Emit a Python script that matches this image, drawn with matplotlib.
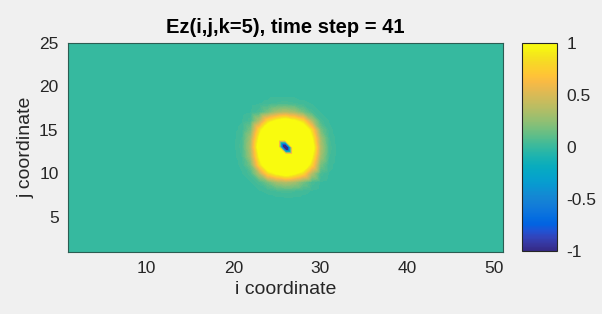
import numpy as np
import matplotlib
matplotlib.use('Agg')
import matplotlib.pyplot as plt
import matplotlib.tri as mtri
from matplotlib.colors import LinearSegmentedColormap, Normalize
from matplotlib.cm import ScalarMappable

# grid size (i = 1..51, j = 1..25)
n_i = 51
n_j = 25
src_i = 26   # centre of the pulse
src_j = 13

# Ez values around the source (rows j-5 .. j+5, cols i-5 .. i+5)
ez_patch = [
    [0.00, 0.00, 0.01, 0.02, 0.04, 0.05, 0.04, 0.02, 0.01, 0.00, 0.00],
    [0.00, 0.01, 0.05, 0.17, 0.30, 0.35, 0.30, 0.17, 0.05, 0.01, 0.00],
    [0.01, 0.05, 0.35, 0.80, 1.00, 1.15, 1.00, 0.80, 0.35, 0.05, 0.01],
    [0.02, 0.17, 0.80, 1.30, 1.60, 1.70, 1.60, 1.30, 0.80, 0.17, 0.02],
    [0.04, 0.30, 1.00, 1.60, 1.50, 1.50, 1.50, 1.60, 1.00, 0.30, 0.04],
    [0.05, 0.35, 1.15, 1.70, 1.50, -2.20, 1.50, 1.70, 1.15, 0.35, 0.05],
    [0.04, 0.30, 1.00, 1.60, 1.50, 1.50, 1.50, 1.60, 1.00, 0.30, 0.04],
    [0.02, 0.17, 0.80, 1.30, 1.60, 1.70, 1.60, 1.30, 0.80, 0.17, 0.02],
    [0.01, 0.05, 0.35, 0.80, 1.00, 1.15, 1.00, 0.80, 0.35, 0.05, 0.01],
    [0.00, 0.01, 0.05, 0.17, 0.30, 0.35, 0.30, 0.17, 0.05, 0.01, 0.00],
    [0.00, 0.00, 0.01, 0.02, 0.04, 0.05, 0.04, 0.02, 0.01, 0.00, 0.00],
]

cbar_ticks = [-1, -0.5, 0, 0.5, 1]
cbar_labels = ['-1', '-0.5', '0', '0.5', '1']

# parula-like colormap
parula = LinearSegmentedColormap.from_list('parula', [
    (0.2081, 0.1663, 0.5292), (0.2123, 0.2138, 0.6270), (0.1959, 0.2645, 0.7279),
    (0.1253, 0.3242, 0.8303), (0.0117, 0.3875, 0.8820), (0.0165, 0.4266, 0.8786),
    (0.0498, 0.4586, 0.8641), (0.0723, 0.4887, 0.8467), (0.0793, 0.5200, 0.8312),
    (0.0641, 0.5570, 0.8240), (0.0343, 0.5966, 0.8199), (0.0239, 0.6287, 0.8038),
    (0.0228, 0.6535, 0.7768), (0.0384, 0.6743, 0.7436), (0.0843, 0.6928, 0.7062),
    (0.1453, 0.7098, 0.6646), (0.2178, 0.7250, 0.6193), (0.3022, 0.7376, 0.5712),
    (0.3953, 0.7459, 0.5244), (0.4871, 0.7491, 0.4840), (0.5709, 0.7485, 0.4494),
    (0.6473, 0.7456, 0.4188), (0.7184, 0.7411, 0.3905), (0.7858, 0.7356, 0.3633),
    (0.8507, 0.7299, 0.3360), (0.9139, 0.7258, 0.3063), (0.9739, 0.7314, 0.2666),
    (0.9990, 0.7653, 0.2164), (0.9880, 0.8066, 0.1794), (0.9697, 0.8481, 0.1475),
    (0.9589, 0.8949, 0.1132), (0.9661, 0.9514, 0.0755), (0.9763, 0.9831, 0.0538),
], N=256)

ez = np.zeros((n_j, n_i))
p = np.array(ez_patch)
h = p.shape[0] // 2
ez[src_j - 1 - h:src_j + h, src_i - 1 - h:src_i + h] = p

# grid nodes, each cell split into two triangles (like an interp-shaded surface)
X, Y = np.meshgrid(np.arange(1, n_i + 1), np.arange(1, n_j + 1))
idx = np.arange(n_i * n_j).reshape(n_j, n_i)
a = idx[:-1, :-1].ravel()
b = idx[:-1, 1:].ravel()
c = idx[1:, 1:].ravel()
d = idx[1:, :-1].ravel()
tris = np.vstack([np.column_stack([a, b, d]), np.column_stack([b, c, d])])
tri = mtri.Triangulation(X.ravel(), Y.ravel(), tris)

plt.rcParams['font.family'] = ['Liberation Sans', 'DejaVu Sans']
fig = plt.figure(figsize=(6.02, 3.14), dpi=100, facecolor='#f0f0f0')
ax = fig.add_axes([0.1135, 0.1984, 0.7217, 0.6656])
norm = Normalize(vmin=-1, vmax=1)
levels = np.arange(-2.5125, 2.02, 0.025)
ax.tricontourf(tri, ez.ravel(), levels=levels, cmap=parula, norm=norm,
               antialiased=False)
ax.set_xlim(1, n_i)
ax.set_ylim(1, n_j)
ax.set_xticks([10, 20, 30, 40, 50])
ax.set_yticks([5, 10, 15, 20, 25])
ax.tick_params(length=0, labelsize=12.5, colors='#262626', pad=7)
for s in ax.spines.values():
    s.set_color('#2b5d52')
    s.set_linewidth(0.8)
ax.set_xlabel('i coordinate', fontsize=14, color='#262626', labelpad=3)
ax.set_ylabel('j coordinate', fontsize=14, color='#262626', labelpad=3)
ax.set_title('Ez(i,j,k=5), time step = 41', fontsize=14.5, fontweight='bold',
             color='#000000', pad=7)

cax = fig.add_axes([0.8666, 0.2016, 0.0581, 0.6624])
cb = fig.colorbar(ScalarMappable(norm=norm, cmap=parula), cax=cax, ticks=cbar_ticks)
cb.ax.set_yticklabels(cbar_labels)
cb.ax.tick_params(length=0, labelsize=12.5, colors='#262626', pad=7)
cb.outline.set_color('#262626')
cb.outline.set_linewidth(0.8)

fig.savefig('out.png', dpi=100, facecolor=fig.get_facecolor())
